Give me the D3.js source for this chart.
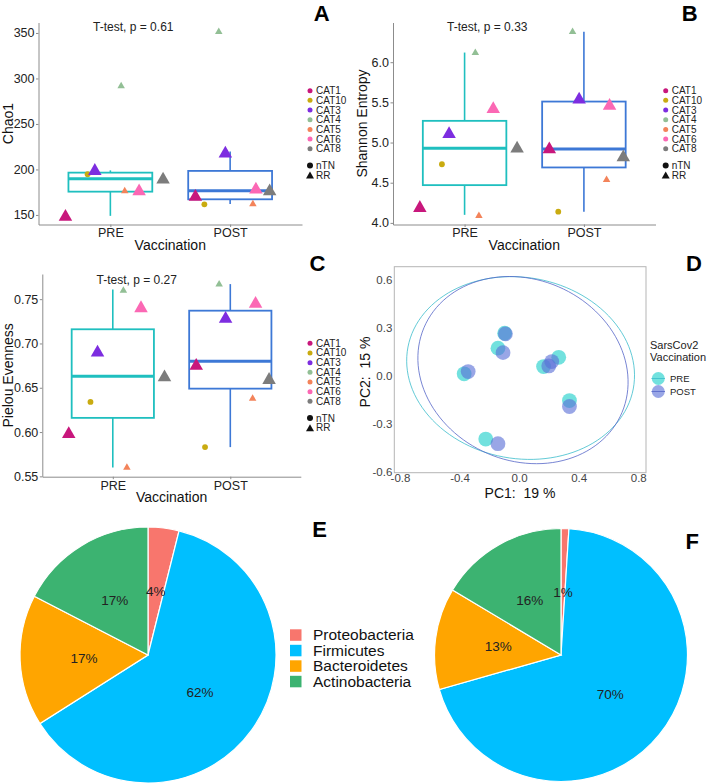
<!DOCTYPE html>
<html><head><meta charset="utf-8">
<script src="https://cdn.jsdelivr.net/npm/d3@7"></script>
<style>body{margin:0;background:#fff} svg{display:block;font-family:"Liberation Sans",Arial,sans-serif} text{white-space:pre}</style>
</head><body><svg id="c" width="708" height="784"></svg>
<script>
// ---------------- DATA ----------------
const categories = ["CAT1","CAT10","CAT3","CAT4","CAT5","CAT6","CAT8"];
const catGroup   = ["RR","nTN","RR","RR","RR","RR","RR"];
const timepoints = ["PRE","POST"];

// per-category jitter (fraction of category step)
const jitterPre  = [-0.375,-0.19,-0.13,0.09,0.12,0.24,0.44];
const jitterPost = [-0.29,-0.215,-0.04,-0.095,0.19,0.215,0.33];

const chao1Pre    = [150,194.7,200.5,292.9,177.5,178,191];
const chao1Post   = [172,161.7,219.6,352.5,163,180,178];
const shannonPre  = [4.21,4.73,5.13,6.13,4.10,5.44,4.95];
const shannonPost = [4.94,4.14,5.56,6.39,4.55,5.48,4.84];
const pielouPre   = [0.600,0.634,0.692,0.761,0.561,0.742,0.664];
const pielouPost  = [0.677,0.583,0.730,0.768,0.639,0.747,0.661];

// box stats: [lower whisker, q1, median, q3, upper whisker]
const chao1BoxPre    = [149,175.6,189.9,196.5,199];
const chao1BoxPost   = [162,167.2,176.7,198.4,219.6];
const shannonBoxPre  = [4.10,4.47,4.93,5.27,6.12];
const shannonBoxPost = [4.14,4.69,4.92,5.51,6.38];
const pielouBoxPre   = [0.560,0.616,0.663,0.716,0.761];
const pielouBoxPost  = [0.583,0.649,0.680,0.737,0.767];

const chao1Ticks   = [150,200,250,300,350];
const shannonTicks = [4.0,4.5,5.0,5.5,6.0];
const pielouTicks  = [0.55,0.60,0.65,0.70,0.75];
const pcTicksX = [-0.8,-0.4,0.0,0.4,0.8];
const pcTicksY = [-0.6,-0.3,0.0,0.3,0.6];

const pcaPreX  = [-0.369,-0.142,-0.097,0.164,0.266,0.338,-0.224];
const pcaPreY  = [0.011,0.171,0.264,0.056,0.114,-0.156,-0.396];
const pcaPostX = [-0.342,-0.108,-0.092,0.199,0.219,0.338,-0.142];
const pcaPostY = [0.025,0.143,0.260,0.060,0.087,-0.193,-0.425];
// ellipses: [cx, cy, a, b, angle(deg)] in data units
const ellipsePre  = [0.01,0.047,0.768,0.566,-7.6];
const ellipsePost = [0.026,0.034,0.717,0.570,-16.9];

const phyla = ["Proteobacteria","Firmicutes","Bacteroidetes","Actinobacteria"];
const pieE = [3.9,62.1,16.6,17.4];
const pieF = [1.0,69.6,13.0,16.4];

// ---------------- STYLE ----------------
const catColors = ["#c8177c","#c9ab10","#7d2de0","#92bf95","#f3835a","#fb68b4","#7c7c7c"];
const catBig = {CAT1:true,CAT3:true,CAT6:true,CAT8:true};
const boxColors = ["#1fbfbf","#3d78d6"];
const pcaColors = ["#2fd3cf","#5b6fd6"];
const ellColors = ["#3bbccc","#5566c8"];
const phylaColors = ["#f8766d","#00bfff","#ffa500","#3cb371"];
const axisGray = "#8c8c8c";

const svg = d3.select("#c");

function tri(cx, cy, w, h){
  return `M${cx},${cy-h/2}L${cx+w/2},${cy+h/2}L${cx-w/2},${cy+h/2}Z`;
}

function boxPanel(o){
  const g = svg.append("g");
  const x = d3.scalePoint().domain(timepoints).range(o.xr).padding(0.6);
  const y = d3.scaleLinear().domain(o.yd).range(o.yr);
  const step = x.step();
  const ya = g.append("g").attr("transform",`translate(${o.xr[0]},0)`)
    .call(d3.axisLeft(y).tickValues(o.ticks).tickFormat(o.fmt).tickSize(2.5).tickSizeOuter(0).tickPadding(1.5));
  const xa = g.append("g").attr("transform",`translate(0,${o.yr[0]})`)
    .call(d3.axisBottom(x).tickSize(2.5).tickSizeOuter(0).tickPadding(1.5));
  [ya,xa].forEach(a=>{
    a.select(".domain").attr("stroke",axisGray).attr("stroke-width",1);
    a.selectAll(".tick line").attr("stroke",axisGray);
    a.selectAll("text").attr("font-size",12.5).attr("fill","#222").attr("font-family","Liberation Sans, Arial, sans-serif");
  });
  // boxes
  [o.boxPre,o.boxPost].forEach((s,i)=>{
    const cx = x(timepoints[i]), w = step*0.7, col = boxColors[i];
    g.append("line").attr("x1",cx).attr("x2",cx).attr("y1",y(s[0])).attr("y2",y(s[1])).attr("stroke",col).attr("stroke-width",1.6);
    g.append("line").attr("x1",cx).attr("x2",cx).attr("y1",y(s[3])).attr("y2",y(s[4])).attr("stroke",col).attr("stroke-width",1.6);
    g.append("rect").attr("x",cx-w/2).attr("width",w).attr("y",y(s[3])).attr("height",y(s[1])-y(s[3]))
      .attr("fill","#fff").attr("stroke",col).attr("stroke-width",1.8);
    g.append("line").attr("x1",cx-w/2).attr("x2",cx+w/2).attr("y1",y(s[2])).attr("y2",y(s[2])).attr("stroke",col).attr("stroke-width",3);
  });
  // points
  [[o.pre,jitterPre],[o.post,jitterPost]].forEach(([vals,jit],i)=>{
    vals.forEach((v,k)=>{
      const px = x(timepoints[i]) + jit[k]*step, py = y(v), c = catColors[k];
      if (catGroup[k]==="nTN") g.append("circle").attr("cx",px).attr("cy",py).attr("r",2.9).attr("fill",c);
      else if (catBig[categories[k]]) g.append("path").attr("d",tri(px,py,13.5,11.8)).attr("fill",c);
      else g.append("path").attr("d",tri(px,py,7.5,6.5)).attr("fill",c);
    });
  });
  // ttest text
  g.append("text").attr("x",o.tx).attr("y",o.ty).attr("text-anchor","middle").attr("font-size",12).attr("fill","#222").text(o.ttest);
  // axis titles
  g.append("text").attr("x",(o.xr[0]+o.xr[1])/2).attr("y",o.xtY).attr("text-anchor","middle").attr("font-size",14).attr("fill","#111").text("Vaccination");
  g.append("text").attr("transform",`translate(${o.ytX},${(o.yr[0]+o.yr[1])/2}) rotate(-90)`).attr("text-anchor","middle").attr("font-size",14).attr("fill","#111").text(o.ylab);
  // legend
  categories.forEach((c,k)=>{
    const ly = o.ly + k*9.67;
    g.append("circle").attr("cx",o.lx).attr("cy",ly).attr("r",2.5).attr("fill",catColors[k]);
    g.append("text").attr("x",o.lx+6).attr("y",ly).attr("dy","0.35em").attr("font-size",10).attr("fill","#222").text(c);
  });
  const ny = o.ly + 74.8;
  g.append("circle").attr("cx",o.lx).attr("cy",ny).attr("r",3).attr("fill","#111");
  g.append("text").attr("x",o.lx+6).attr("y",ny).attr("dy","0.35em").attr("font-size",10).attr("fill","#222").text("nTN");
  g.append("path").attr("d",tri(o.lx,ny+9.6,8,7)).attr("fill","#111");
  g.append("text").attr("x",o.lx+6).attr("y",ny+9.6).attr("dy","0.35em").attr("font-size",10).attr("fill","#222").text("RR");
  // panel letter
  g.append("text").attr("x",o.px).attr("y",o.py).attr("text-anchor","middle").attr("font-size",22).attr("font-weight","bold").attr("fill","#000").text(o.letter);
}

boxPanel({xr:[38.5,302],yd:[139.5,361.5],yr:[224.5,22.5],ticks:chao1Ticks,fmt:d3.format("d"),
  pre:chao1Pre,post:chao1Post,boxPre:chao1BoxPre,boxPost:chao1BoxPost,
  ttest:"T-test, p = 0.61",tx:133.3,ty:31,xtY:250,ytX:12.5,ylab:"Chao1",lx:310,ly:90.7,px:321.7,py:20.7,letter:"A"});
boxPanel({xr:[393,655.5],yd:[3.98,6.494],yr:[224.5,22.5],ticks:shannonTicks,fmt:d3.format(".1f"),
  pre:shannonPre,post:shannonPost,boxPre:shannonBoxPre,boxPost:shannonBoxPost,
  ttest:"T-test, p = 0.33",tx:487.3,ty:31,xtY:250,ytX:366.5,ylab:"Shannon Entropy",lx:665.7,ly:90.7,px:689.8,py:20.7,letter:"B"});
boxPanel({xr:[42.3,300.8],yd:[0.5496,0.7784],yr:[476.7,274],ticks:pielouTicks,fmt:d3.format(".2f"),
  pre:pielouPre,post:pielouPost,boxPre:pielouBoxPre,boxPost:pielouBoxPost,
  ttest:"T-test, p = 0.27",tx:136.7,ty:284,xtY:502,ytX:12.5,ylab:"Pielou Evenness",lx:310,ly:343.3,px:317.5,py:270.7,letter:"C"});

// ---------------- PANEL D (PCA) ----------------
(function(){
  const g = svg.append("g");
  const x = d3.scaleLinear().domain([-0.838,0.852]).range([394.3,646]);
  const y = d3.scaleLinear().domain([-0.606,0.679]).range([472.7,266.7]);
  const fmt = d => (Math.abs(d)<1e-9?0:d).toFixed(1);
  const xa = g.append("g").attr("transform","translate(0,472.7)").call(d3.axisBottom(x).tickValues(pcTicksX).tickFormat(fmt).tickSize(0).tickPadding(1));
  const ya = g.append("g").attr("transform","translate(394.3,0)").call(d3.axisLeft(y).tickValues(pcTicksY).tickFormat(fmt).tickSize(0).tickPadding(2));
  [xa,ya].forEach(a=>{ a.select(".domain").remove(); a.selectAll("text").attr("font-size",11.5).attr("fill","#444").attr("font-family","Liberation Sans, Arial, sans-serif");});
  g.append("rect").attr("x",394.3).attr("y",266.7).attr("width",646-394.3).attr("height",472.7-266.7).attr("fill","none").attr("stroke","#b5b5b5").attr("stroke-width",1);
  // ellipses
  const line = d3.line().x(d=>x(d[0])).y(d=>y(d[1]));
  [ellipsePre,ellipsePost].forEach((e,i)=>{
    const [cx,cy,a,b,ang] = e, th = ang*Math.PI/180;
    const pts = d3.range(0,361,3).map(t=>{const r=t*Math.PI/180;
      return [cx + a*Math.cos(r)*Math.cos(th) - b*Math.sin(r)*Math.sin(th), cy + a*Math.cos(r)*Math.sin(th) + b*Math.sin(r)*Math.cos(th)];});
    g.append("path").attr("d",line(pts)).attr("fill","none").attr("stroke",ellColors[i]).attr("stroke-width",0.8);
  });
  [[pcaPreX,pcaPreY,0.68],[pcaPostX,pcaPostY,0.62]].forEach(([xs,ys,op],i)=>{
    xs.forEach((v,k)=> g.append("circle").attr("cx",x(v)).attr("cy",y(ys[k])).attr("r",7.4).attr("fill",pcaColors[i]).attr("fill-opacity",op));
  });
  g.append("text").attr("x",520).attr("y",498).attr("text-anchor","middle").attr("font-size",14).attr("fill","#111").text("PC1:  19 %");
  g.append("text").attr("transform","translate(369.5,372) rotate(-90)").attr("text-anchor","middle").attr("font-size",14).attr("fill","#111").text("PC2:  15 %");
  // legend
  g.append("text").attr("x",650).attr("y",349).attr("font-size",11).attr("fill","#222").text("SarsCov2");
  g.append("text").attr("x",650).attr("y",360.5).attr("font-size",11).attr("fill","#222").text("Vaccination");
  timepoints.forEach((t,i)=>{
    const ly = 378.5 + i*13;
    g.append("circle").attr("cx",658.3).attr("cy",ly).attr("r",6.5).attr("fill",pcaColors[i]).attr("fill-opacity",i?0.62:0.68);
    g.append("line").attr("x1",651.5).attr("x2",665).attr("y1",ly).attr("y2",ly).attr("stroke",ellColors[i]).attr("stroke-width",0.8);
    g.append("text").attr("x",670).attr("y",ly).attr("dy","0.35em").attr("font-size",9.5).attr("fill","#222").text(t);
  });
  g.append("text").attr("x",694).attr("y",270.7).attr("text-anchor","middle").attr("font-size",22).attr("font-weight","bold").text("D");
})();

// ---------------- PIES ----------------
function pieChart(vals, cx, cy, r, letter, lx, ly){
  const g = svg.append("g").attr("transform",`translate(${cx},${cy})`);
  const arcs = d3.pie().sort(null)(vals);
  const arc = d3.arc().innerRadius(0).outerRadius(r);
  g.selectAll("path").data(arcs).join("path").attr("d",arc).attr("fill",(d,i)=>phylaColors[i]).attr("stroke","#fff").attr("stroke-width",1.2);
  g.selectAll("text").data(arcs).join("text").attr("transform",d=>`translate(${arc.centroid(d)})`)
    .attr("text-anchor","middle").attr("dy","0.35em").attr("font-size",13.5).attr("fill","#222").text(d=>Math.round(d.data)+"%");
  svg.append("text").attr("x",lx).attr("y",ly).attr("text-anchor","middle").attr("font-size",22).attr("font-weight","bold").text(letter);
}
pieChart(pieE,148,655,128,"E",319.7,536.7);
pieChart(pieF,561,655,126.5,"F",692.3,549.3);

// pie legend
phyla.forEach((p,i)=>{
  const ly = 635 + i*15.5;
  svg.append("rect").attr("x",290).attr("y",ly-5.7).attr("width",11.5).attr("height",11.5).attr("fill",phylaColors[i]);
  svg.append("text").attr("x",313).attr("y",ly).attr("dy","0.35em").attr("font-size",15.5).attr("fill","#111").text(p);
});
</script></body></html>
